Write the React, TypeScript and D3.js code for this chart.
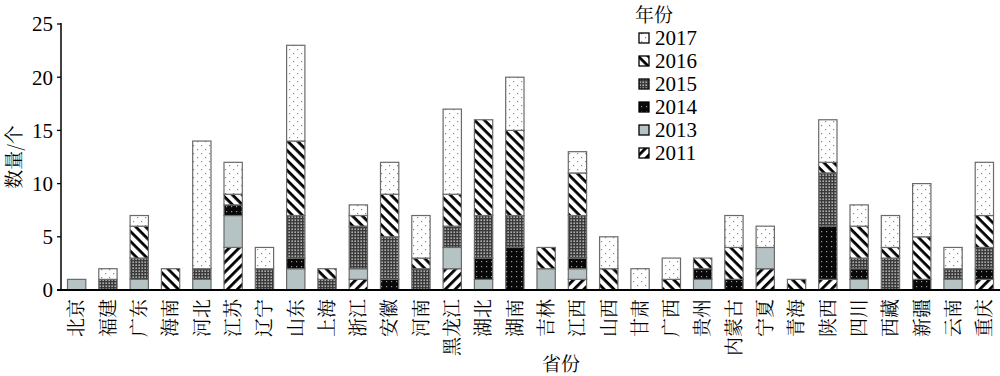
import React from 'react';
import * as d3 from 'd3';

const provinces = ['北京','福建','广东','海南','河北','江苏','辽宁','山东','上海','浙江','安徽','河南','黑龙江','湖北','湖南','吉林','江西','山西','甘肃','广西','贵州','内蒙古','宁夏','青海','陕西','四川','西藏','新疆','云南','重庆'];
const years = ['2011','2013','2014','2015','2016','2017'];
const y2011 = [0,0,0,0,0,4,0,0,0,1,0,0,2,0,0,0,1,0,0,0,0,0,2,0,1,0,0,0,0,1];
const y2013 = [1,0,1,0,1,3,0,2,0,1,0,0,2,1,0,2,1,0,0,0,1,0,2,0,0,1,0,0,1,0];
const y2014 = [0,0,0,0,0,1,0,1,0,0,1,0,0,2,4,0,1,0,0,0,1,1,0,0,5,1,0,1,0,1];
const y2015 = [0,1,2,0,1,0,2,4,1,4,4,2,2,4,3,0,4,0,0,0,0,0,0,0,5,1,3,0,1,2];
const y2016 = [0,0,3,2,0,1,0,7,1,1,4,1,3,9,8,2,4,2,0,1,1,3,0,1,1,3,1,4,0,3];
const y2017 = [0,1,1,0,12,3,2,9,0,1,3,4,8,0,5,0,2,3,2,2,0,3,2,0,4,2,3,5,2,5];
const yTicks = [0,5,10,15,20,25];
const legendOrder = ['2017','2016','2015','2014','2013','2011'];

const W = 1000, H = 376;
const serif = '"Liberation Serif", "Noto Sans CJK SC", serif';
const cjk = '"Noto Serif CJK SC", "Noto Sans CJK SC", "Liberation Serif", serif';

export default function App() {
  const seriesMap: Record<string, number[]> = { '2011': y2011, '2013': y2013, '2014': y2014, '2015': y2015, '2016': y2016, '2017': y2017 };
  const table = provinces.map((p, i) => {
    const row: any = { p };
    years.forEach(y => { row[y] = seriesMap[y][i]; });
    return row;
  });
  const stacked = d3.stack().keys(years)(table as any);
  const x = d3.scaleBand().domain(provinces).range([61, 1000]).paddingInner(0.415).paddingOuter(0.2075);
  const y = d3.scaleLinear().domain([0, 25]).range([290, 24]);
  const fillFor = (k: string) => k === '2013' ? '#b5c3c5' : `url(#pat${k})`;

  return (
    <svg width={W} height={H} style={{ position: 'absolute', left: 0, top: 0, background: '#fff' }}>
      <defs>
        <pattern id="pat2017" width="8" height="8" patternUnits="userSpaceOnUse">
          <rect width="8" height="8" fill="#fff" />
          <rect x="1" y="1" width="1.2" height="1.2" fill="#888" />
          <rect x="5" y="5" width="1.2" height="1.2" fill="#888" />
        </pattern>
        <pattern id="pat2016" width="7" height="7" patternUnits="userSpaceOnUse" patternTransform="rotate(45)">
          <rect width="7" height="7" fill="#fff" />
          <rect x="0" y="0" width="7" height="2.8" fill="#000" />
        </pattern>
        <pattern id="pat2011" width="7" height="7" patternUnits="userSpaceOnUse" patternTransform="rotate(-45)">
          <rect width="7" height="7" fill="#fff" />
          <rect x="0" y="0" width="7" height="2.8" fill="#000" />
        </pattern>
        <pattern id="pat2015" width="3" height="3" patternUnits="userSpaceOnUse">
          <rect width="3" height="3" fill="#3a3a3a" />
          <rect x="0.5" y="0.5" width="1.3" height="1.3" fill="#e8e8e8" />
        </pattern>
        <pattern id="pat2014" width="5" height="5" patternUnits="userSpaceOnUse">
          <rect width="5" height="5" fill="#080808" />
          <rect x="1" y="1" width="1.2" height="1.2" fill="#999" />
        </pattern>
      </defs>

      {stacked.map(s => (
        <g key={s.key}>
          {s.map((d, i) => {
            const v = d[1] - d[0];
            if (v <= 0) return null;
            return (
              <rect key={i} x={x(provinces[i])} width={x.bandwidth()} y={y(d[1])} height={y(d[0]) - y(d[1])}
                fill={fillFor(s.key)} stroke="#6a6a6a" strokeWidth={1.2} />
            );
          })}
        </g>
      ))}

      {/* axes */}
      <line x1={61} x2={61} y1={23} y2={290} stroke="#000" strokeWidth={1.5} />
      <line x1={57} x2={1000} y1={290} y2={290} stroke="#000" strokeWidth={1.8} />
      {yTicks.map(t => (
        <g key={t}>
          <line x1={57} x2={61} y1={y(t)} y2={y(t)} stroke="#000" strokeWidth={1.3} />
          <text x={53} y={y(t)} dy="0.35em" textAnchor="end" fontFamily={serif} fontSize={21} fill="#000">{t}</text>
        </g>
      ))}
      {provinces.map(p => (
        <text key={p} transform={`translate(${(x(p) as number) + x.bandwidth() / 2},299) rotate(-90)`} dy="0.36em"
          textAnchor="end" fontFamily={cjk} fontSize={19} fill="#000">{p}</text>
      ))}
      <text transform={`translate(14,157) rotate(-90)`} dy="0.36em" textAnchor="middle" fontFamily={cjk} fontSize={19} fill="#000">数量/个</text>
      <text x={561} y={364} dy="0.36em" textAnchor="middle" fontFamily={cjk} fontSize={19} fill="#000">省份</text>

      {/* legend */}
      <text x={635} y={15} dy="0.36em" fontFamily={cjk} fontSize={19} fill="#000">年份</text>
      {legendOrder.map((k, i) => {
        const cy = 38 + i * 23;
        return (
          <g key={k}>
            <rect x={639} y={cy - 5} width={10} height={10} fill={fillFor(k)} stroke="#000" strokeWidth={1.3} />
            <text x={655} y={cy} dy="0.35em" fontFamily={serif} fontSize={21} fill="#000">{k}</text>
          </g>
        );
      })}
    </svg>
  );
}
